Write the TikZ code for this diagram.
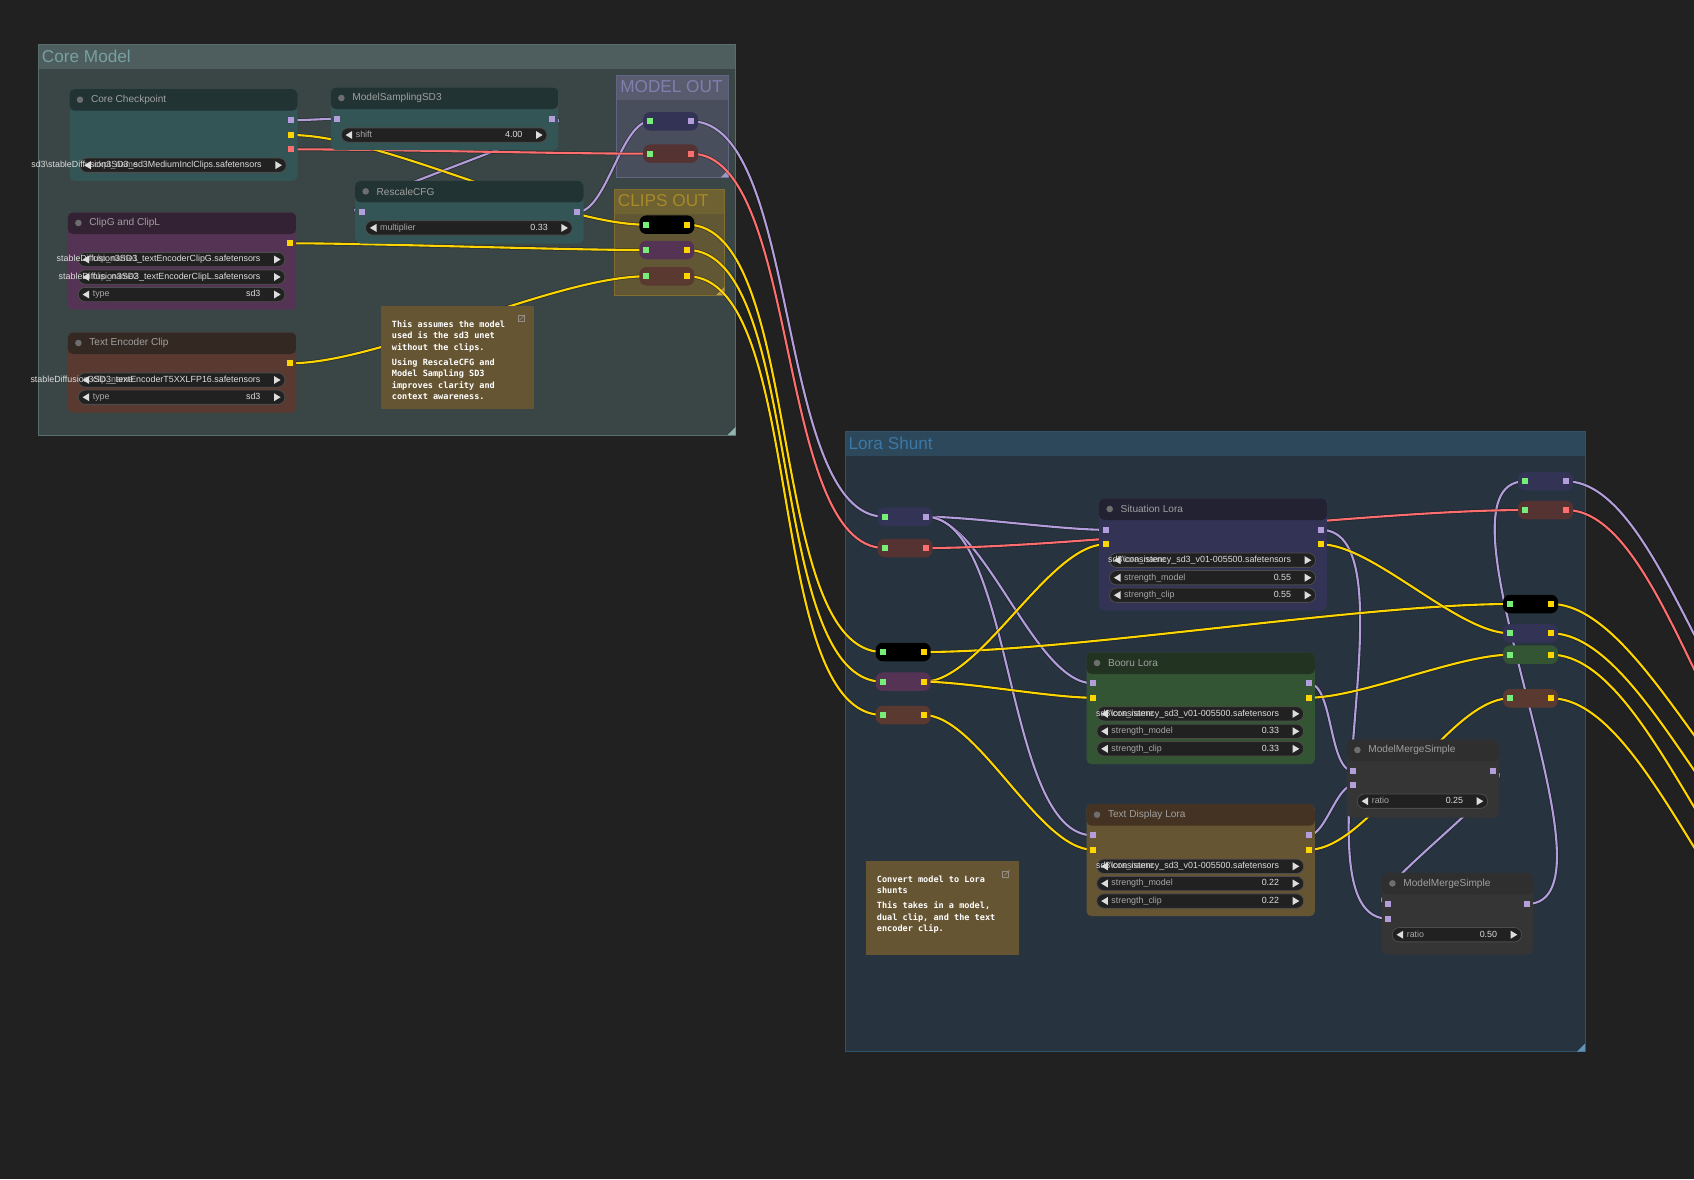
\documentclass[tikz,border=0pt]{standalone}
\usepackage{fontspec}
\setmainfont{Liberation Sans}
\newfontfamily\notefont{DejaVu Sans Mono}
\usetikzlibrary{calc}
\pgfdeclarelayer{groups}
\pgfdeclarelayer{wires}
\pgfsetlayers{groups,wires,main}

\definecolor{canvas}{HTML}{212121}
\definecolor{cyanT}{HTML}{223333}\definecolor{cyanB}{HTML}{335555}
\definecolor{purpT}{HTML}{332233}\definecolor{purpB}{HTML}{553355}
\definecolor{brownT}{HTML}{332922}\definecolor{brownB}{HTML}{593930}
\definecolor{blueT}{HTML}{222233}\definecolor{blueB}{HTML}{333355}
\definecolor{greenT}{HTML}{223322}\definecolor{greenB}{HTML}{335533}
\definecolor{yellT}{HTML}{443322}\definecolor{yellB}{HTML}{665533}
\definecolor{defT}{HTML}{2F2F2F}\definecolor{defB}{HTML}{353535}
\definecolor{redB}{HTML}{553333}
\definecolor{model}{HTML}{B39DDB}
\definecolor{clip}{HTML}{FFD500}
\definecolor{vae}{HTML}{FF6E6E}
\definecolor{rrin}{HTML}{77EE77}
\definecolor{titlegray}{HTML}{A0A0A0}
\definecolor{dotgray}{HTML}{6E6E6E}
\definecolor{labgray}{HTML}{A8A8A8}
\definecolor{valwhite}{HTML}{DDDDDD}
\definecolor{coreB}{HTML}{3A4545}\definecolor{coreT}{HTML}{4E5E5E}\definecolor{coreX}{HTML}{78A0A0}
\definecolor{moB}{HTML}{494E5D}\definecolor{moT}{HTML}{585C6E}\definecolor{moX}{HTML}{8080B0}
\definecolor{coB}{HTML}{625734}\definecolor{coT}{HTML}{6E6132}\definecolor{coX}{HTML}{A88A2A}
\definecolor{lsB}{HTML}{273440}\definecolor{lsT}{HTML}{2D485A}\definecolor{lsX}{HTML}{3A78A8}

% name, left, top, width, height, title, title colour, body colour
\newcommand\comfy[8]{%
  \node[cnode, fill=#8, minimum width=#4pt, minimum height=#5pt,
    path picture={\fill[#7] (path picture bounding box.north west) rectangle
      ([yshift=-21.5pt]path picture bounding box.north east);}] (#1) at (#2,#3) {};
  \fill[dotgray] ($(#1.north west)+(10.7,10.7)$) circle (3.3pt);
  \node[ttext] (#1-title) at ($(#1.north west)+(21.5,10.7)$) {#6};}
% name, node, dy, label, value
\newcommand\widg[5]{%
  \coordinate (#1-l) at ($(#2.north west)+(10.5,#3)$);
  \coordinate (#1-r) at ($(#2.north east)+(-11.5,#3)$);
  \draw[widgbox] ($(#1-l)+(0,-7.15)$) rectangle ($(#1-r)+(0,7.15)$);
  \fill[valwhite] ($(#1-l)+(4.4,0)$) -- ++(6.6,-4) -- ++(0,8) -- cycle;
  \fill[valwhite] ($(#1-r)+(-4.3,0)$) -- ++(-6.6,-4) -- ++(0,8) -- cycle;
  \node[wlabel] (#1-label) at ($(#1-l)+(14.4,0)$) {#4};
  \node[wvalue] (#1-value) at ($(#1-r)+(-24.3,0)$) {#5};}
\newcommand\insock[4]{\node[sock, fill=#4] (#1) at ($(#2.north west)+(6.5,#3)$) {};}
\newcommand\outsock[4]{\node[sock, fill=#4] (#1) at ($(#2.north east)+(-6.5,#3)$) {};}
% name, cx, cy, fill, output colour
\newcommand\reroute[5]{%
  \node[rr, fill=#4] (#1) at (#2,#3) {};
  \node[sock, fill=rrin] (#1-in) at ($(#1.west)+(7.2,0)$) {};
  \node[sock, fill=#5] (#1-out) at ($(#1.east)+(-7.2,0)$) {};}
% name, x1, y1, x2, y2, body, bar, text colour, title
\newcommand\grp[9]{%
  \fill[#6] (#2,#3) rectangle (#4,#5);
  \fill[#7] (#2,#3) rectangle (#4,#3+24.6);
  \draw[#8!45!#6, line width=1pt] (#2,#3) rectangle (#4,#5);
  \fill[#8!80!white] (#4,#5) -- ++(-8,0) -- ++(8,-8) -- cycle;
  \node[gtitle, text=#8] (#1) at (#2+3.4,#3+11.3) {#9};}
\newcommand\wire[3]{\draw[wire=#1] let \p1=(#2.center), \p2=(#3.center),
  \n1={0.25*veclen(\x2-\x1,\y2-\y1)} in
  (\p1) .. controls (\x1+\n1,\y1) and (\x2-\n1,\y2) .. (\p2);}

\begin{document}
\begin{tikzpicture}
  [
    x=1pt, y=-1pt,
    cnode/.style = {rectangle, rounded corners=5pt, inner sep=0pt, anchor=north west},
    ttext/.style = {anchor=west, inner sep=0pt, text=titlegray, font=\fontsize{10.1}{12}\selectfont},
    widgbox/.style = {fill=canvas, draw=black!70!white, line width=0.8pt, rounded corners=7pt},
    wlabel/.style = {anchor=west, inner sep=0pt, text=labgray, text height=6.4pt, text depth=1.8pt, font=\fontsize{8.9}{10}\selectfont},
    wvalue/.style = {anchor=east, inner sep=0pt, text=valwhite, text height=6.4pt, text depth=1.8pt, font=\fontsize{8.9}{10}\selectfont},
    sock/.style = {rectangle, inner sep=0pt, minimum size=6pt},
    rr/.style = {rectangle, rounded corners=7pt, inner sep=0pt, minimum width=55pt, minimum height=18.5pt},
    gtitle/.style = {anchor=west, inner sep=0pt, font=\fontsize{17.2}{20}\selectfont},
    note/.style = {rectangle, fill=yellB, inner sep=0pt, anchor=north west},
    notetext/.style = {anchor=north west, align=left, inner sep=0pt, text=white, font=\notefont\bfseries\fontsize{8.55}{11.5}\selectfont},
    nicon/.style = {draw=labgray!70!yellB, line width=0.6pt},
    wire/.style = {draw=#1, line width=2.1pt, line cap=round,
      preaction={draw=black, opacity=.35, line width=3.6pt}},
  ]
  \useasboundingbox (0,0) rectangle (1694,1179);

  \begin{pgfonlayer}{groups}
    \fill[canvas] (0,0) rectangle (1694,1179);
    \grp{core}{38.3}{44.7}{735.7}{435}{coreB}{coreT}{coreX}{Core Model}
    \grp{mout}{616.7}{75.7}{728.7}{177.3}{moB}{moT}{moX}{MODEL OUT}
    \grp{cout}{614.3}{189}{724.3}{295}{coB}{coT}{coX}{CLIPS OUT}
    \grp{lora}{845}{431.7}{1585}{1051.7}{lsB}{lsT}{lsX}{Lora Shunt}
  \end{pgfonlayer}

  \comfy{ckpt}{69.3}{89}{228}{91.7}{Core Checkpoint}{cyanT}{cyanB}
  \outsock{ckpt-model}{ckpt}{31.3}{model}
  \outsock{ckpt-clip}{ckpt}{46}{clip}
  \outsock{ckpt-vae}{ckpt}{60.3}{vae}
  \widg{ckpt-w}{ckpt}{76.2}{ckpt\_name}{sd3\textbackslash stableDiffusion3SD3\_sd3MediumInclClips.safetensors}

  \comfy{msd3}{330.7}{87.3}{227.3}{62.7}{ModelSamplingSD3}{cyanT}{cyanB}
  \insock{msd3-in}{msd3}{31.5}{model}
  \outsock{msd3-out}{msd3}{31.5}{model}
  \widg{msd3-w}{msd3}{47.7}{shift}{4.00}

  \comfy{rcfg}{355}{180.7}{228.3}{62.6}{RescaleCFG}{cyanT}{cyanB}
  \insock{rcfg-in}{rcfg}{31.3}{model}
  \outsock{rcfg-out}{rcfg}{31.3}{model}
  \widg{rcfg-w}{rcfg}{47.2}{multiplier}{0.33}

  \comfy{clipgl}{67.7}{212.3}{228.3}{97}{ClipG and ClipL}{purpT}{purpB}
  \outsock{clipgl-clip}{clipgl}{31}{clip}
  \widg{clipgl-wa}{clipgl}{47.2}{clip\_name1}{stableDiffusion3SD3\_textEncoderClipG.safetensors}
  \widg{clipgl-wb}{clipgl}{64.7}{clip\_name2}{stableDiffusion3SD3\_textEncoderClipL.safetensors}
  \widg{clipgl-wc}{clipgl}{82.2}{type}{sd3}

  \comfy{tenc}{67.7}{332.3}{228.3}{80}{Text Encoder Clip}{brownT}{brownB}
  \outsock{tenc-clip}{tenc}{31}{clip}
  \widg{tenc-wa}{tenc}{47.7}{clip\_name}{stableDiffusion3SD3\_textEncoderT5XXLFP16.safetensors}
  \widg{tenc-wb}{tenc}{64.9}{type}{sd3}

  \node[note, minimum width=152.7pt, minimum height=103.3pt] (note1) at (381,305.7) {};
  \node[notetext] (note1-text) at ($(note1.north west)+(10.7,14.5)$)
    {This assumes the model\\used is the sd3 unet\\without the clips.\\[3.5pt]Using RescaleCFG and\\Model Sampling SD3\\improves clarity and\\context awareness.};
  \draw[nicon] ($(note1.north east)+(-16,10)$) rectangle ($(note1.north east)+(-10,16)$);
  \draw[nicon] ($(note1.north east)+(-14.5,14.5)$) -- ($(note1.north east)+(-9,9)$);

  \reroute{mo-m}{670.7}{121.3}{blueB}{model}
  \reroute{mo-v}{670.7}{153.7}{redB}{vae}
  \reroute{co-k}{666.8}{224.7}{black}{clip}
  \reroute{co-p}{666.8}{250}{purpB}{clip}
  \reroute{co-b}{666.8}{276.3}{brownB}{clip}

  \reroute{ls-m}{905}{516.7}{blueB}{model}
  \reroute{ls-v}{905}{548}{redB}{vae}
  \reroute{ls-k}{903.2}{652}{black}{clip}
  \reroute{ls-p}{903.2}{681.7}{purpB}{clip}
  \reroute{ls-b}{903.2}{715}{brownB}{clip}

  \comfy{sit}{1099}{498.3}{227.7}{112}{Situation Lora}{blueT}{blueB}
  \insock{sit-min}{sit}{31.5}{model}
  \insock{sit-cin}{sit}{46}{clip}
  \outsock{sit-mout}{sit}{31.5}{model}
  \outsock{sit-cout}{sit}{46}{clip}
  \widg{sit-wa}{sit}{61.9}{lora\_name}{sd3\textbackslash consistency\_sd3\_v01-005500.safetensors}
  \widg{sit-wb}{sit}{79.4}{strength\_model}{0.55}
  \widg{sit-wc}{sit}{96.9}{strength\_clip}{0.55}

  \comfy{boo}{1086.3}{652.3}{228.4}{111.7}{Booru Lora}{greenT}{greenB}
  \insock{boo-min}{boo}{31}{model}
  \insock{boo-cin}{boo}{45.4}{clip}
  \outsock{boo-mout}{boo}{31}{model}
  \outsock{boo-cout}{boo}{45.4}{clip}
  \widg{boo-wa}{boo}{61.5}{lora\_name}{sd3\textbackslash consistency\_sd3\_v01-005500.safetensors}
  \widg{boo-wb}{boo}{79}{strength\_model}{0.33}
  \widg{boo-wc}{boo}{96.5}{strength\_clip}{0.33}

  \comfy{tdl}{1086.3}{804}{228.4}{112}{Text Display Lora}{yellT}{yellB}
  \insock{tdl-min}{tdl}{31.3}{model}
  \insock{tdl-cin}{tdl}{45.7}{clip}
  \outsock{tdl-mout}{tdl}{31.3}{model}
  \outsock{tdl-cout}{tdl}{45.7}{clip}
  \widg{tdl-wa}{tdl}{62.3}{lora\_name}{sd3\textbackslash consistency\_sd3\_v01-005500.safetensors}
  \widg{tdl-wb}{tdl}{79.5}{strength\_model}{0.22}
  \widg{tdl-wc}{tdl}{97}{strength\_clip}{0.22}

  \comfy{mmsa}{1346.7}{739.3}{152}{78}{ModelMergeSimple}{defT}{defB}
  \insock{mmsa-ma}{mmsa}{31.7}{model}
  \insock{mmsa-mb}{mmsa}{46}{model}
  \outsock{mmsa-out}{mmsa}{31.7}{model}
  \widg{mmsa-w}{mmsa}{61.9}{ratio}{0.25}

  \comfy{mmsb}{1381.7}{872.7}{151}{81.6}{ModelMergeSimple}{defT}{defB}
  \insock{mmsb-ma}{mmsb}{31.3}{model}
  \insock{mmsb-mb}{mmsb}{46}{model}
  \outsock{mmsb-out}{mmsb}{31.3}{model}
  \widg{mmsb-w}{mmsb}{62}{ratio}{0.50}

  \node[note, minimum width=152.3pt, minimum height=93.7pt] (note2) at (866,861) {};
  \node[notetext] (note2-text) at ($(note2.north west)+(10.7,14.3)$)
    {Convert model to Lora\\shunts\\[3.5pt]This takes in a model,\\dual clip, and the text\\encoder clip.};
  \draw[nicon] ($(note2.north east)+(-16,10)$) rectangle ($(note2.north east)+(-10,16)$);
  \draw[nicon] ($(note2.north east)+(-14.5,14.5)$) -- ($(note2.north east)+(-9,9)$);

  \reroute{rs-m}{1545.5}{481.3}{blueB}{model}
  \reroute{rs-v}{1545.5}{510}{redB}{vae}
  \reroute{rs-k}{1530.5}{604}{black}{clip}
  \reroute{rs-u}{1530.5}{633.3}{blueB}{clip}
  \reroute{rs-g}{1530.5}{654.7}{greenB}{clip}
  \reroute{rs-b}{1530.5}{698.3}{brownB}{clip}

  \coordinate (off-m) at (1823,789);
  \coordinate (off-v) at (1823,830);
  \coordinate (off-k) at (1837,866);
  \coordinate (off-u) at (1837,907);
  \coordinate (off-g) at (1837,959);
  \coordinate (off-b) at (1837,996);

  \begin{pgfonlayer}{wires}
    \begin{scope}
      \clip (0,0) rectangle (1694,1179);
      \foreach \a/\b in {ckpt-model/msd3-in, msd3-out/rcfg-in, rcfg-out/mo-m-in,
          mo-m-out/ls-m-in, ls-m-out/sit-min, ls-m-out/boo-min, ls-m-out/tdl-min,
          sit-mout/mmsb-mb, boo-mout/mmsa-ma, tdl-mout/mmsa-mb, mmsa-out/mmsb-ma,
          mmsb-out/rs-m-in, rs-m-out/off-m}
        \wire{model}{\a}{\b};
      \foreach \a/\b in {ckpt-vae/mo-v-in, mo-v-out/ls-v-in, ls-v-out/rs-v-in, rs-v-out/off-v}
        \wire{vae}{\a}{\b};
      \foreach \a/\b in {ckpt-clip/co-k-in, clipgl-clip/co-p-in, tenc-clip/co-b-in,
          co-k-out/ls-k-in, co-p-out/ls-p-in, co-b-out/ls-b-in, ls-k-out/rs-k-in,
          ls-p-out/sit-cin, ls-p-out/boo-cin, ls-b-out/tdl-cin, sit-cout/rs-u-in,
          boo-cout/rs-g-in, tdl-cout/rs-b-in, rs-k-out/off-k, rs-u-out/off-u,
          rs-g-out/off-g, rs-b-out/off-b}
        \wire{clip}{\a}{\b};
    \end{scope}
  \end{pgfonlayer}
\end{tikzpicture}
\end{document}
